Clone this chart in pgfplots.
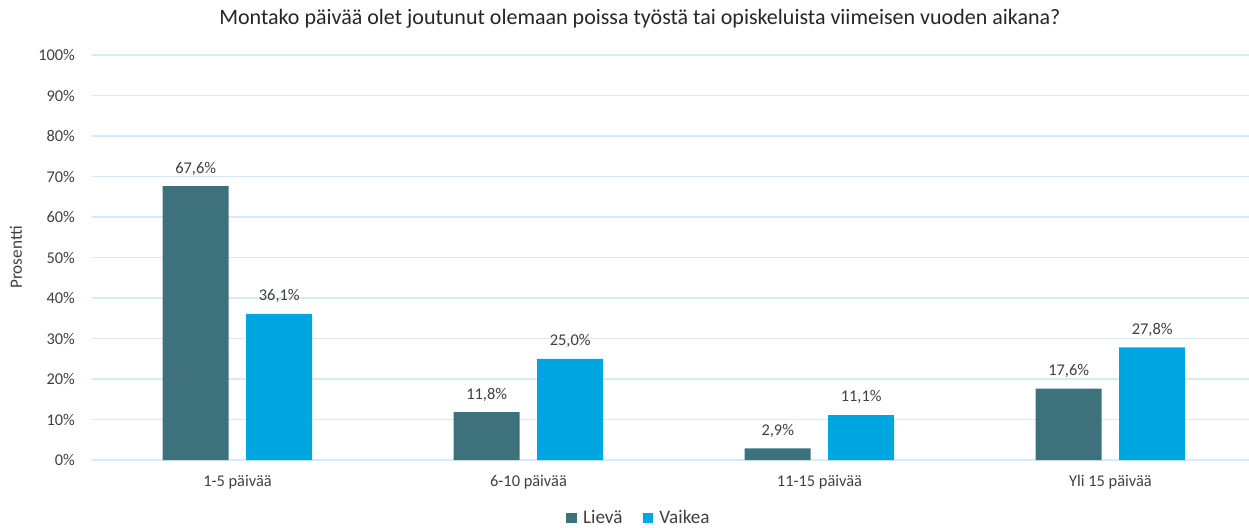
\documentclass[border=0pt]{standalone}
\usepackage{fontspec}
\setmainfont{Carlito}
\usepackage{pgfplots}
\pgfplotsset{compat=1.18}
\definecolor{lieva}{HTML}{3D727D}
\definecolor{vaikea}{HTML}{00A6E0}
\definecolor{gridblue}{HTML}{D6EAF8}
\definecolor{txt}{HTML}{404040}

\begin{document}
\begin{tikzpicture}
% fixed canvas: 1 px of the reference = 0.5pt
\useasboundingbox (-46pt,-33.5pt) rectangle (578.5pt,230pt);
\begin{axis}[
  at={(0,0)}, anchor=south west,
  scale only axis,
  width=578.5pt, height=202.5pt,
  ybar=8.75pt, bar width=33pt,
  xmin=-0.5, xmax=3.476,
  ymin=0, ymax=100,
  xtick={0,1,2,3},
  xticklabels={1-5 päivää,6-10 päivää,11-15 päivää,Yli 15 päivää},
  ytick={0,10,...,100},
  yticklabel={\pgfmathprintnumber{\tick}\%},
  /pgf/number format/assume math mode=true,
  major tick length=0pt,
  ymajorgrids, grid style={gridblue, line width=0.6pt},
  axis x line*=bottom, axis y line*=left,
  x axis line style={gridblue, line width=0.6pt, -},
  y axis line style={draw=none},
  tick label style={font=\fontsize{8.2}{10}\selectfont, text=txt},
  yticklabel style={xshift=-5pt},
  xticklabel style={yshift=-4pt},
  ylabel={Prosentti},
  every axis y label/.style={at={(axis description cs:0,0.5)}, xshift=-38pt, rotate=90, anchor=center, font=\fontsize{8.6}{10}\selectfont, text=txt},
  nodes near coords={\pgfmathprintnumber[fixed,fixed zerofill,precision=1,use comma]{\pgfplotspointmeta}\%},
  nodes near coords style={font=\fontsize{8.2}{10}\selectfont, text=txt, yshift=2pt},
  legend style={at={(0.4736,0)}, yshift=-29pt, anchor=center, draw=none, fill=none,
    legend columns=2, font=\fontsize{9.6}{11}\selectfont, text=txt,
    /tikz/every odd column/.append style={column sep=1pt},
    /tikz/every even column/.append style={column sep=8pt}},
  legend image code/.code={\fill[#1] (0pt,-2.7pt) rectangle (5.4pt,2.7pt);},
  clip=false,
]
\addplot[fill=lieva, draw=none] coordinates {(0,67.6) (1,11.8) (2,2.9) (3,17.6)};
\addplot[fill=vaikea, draw=none] coordinates {(0,36.1) (1,25.0) (2,11.1) (3,27.8)};
\legend{Lievä,Vaikea}
\node[font=\fontsize{11}{13}\selectfont, text=black!85, anchor=base] at (rel axis cs:0.4736,1) [yshift=15.5pt] {Montako päivää olet joutunut olemaan poissa työstä tai opiskeluista viimeisen vuoden aikana?};
\end{axis}
\end{tikzpicture}
\end{document}
